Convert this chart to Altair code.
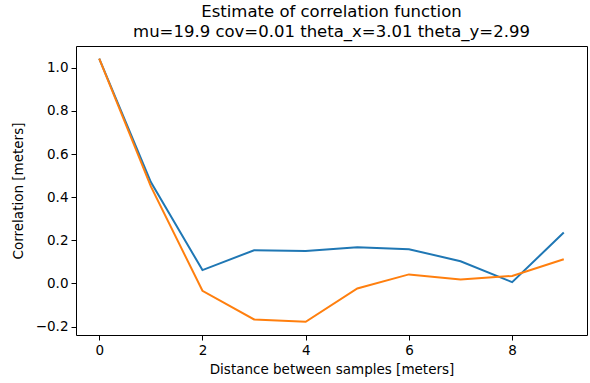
import altair as alt
import pandas as pd

distance = [0, 1, 2, 3, 4, 5, 6, 7, 8, 9]
blue_vals = [1.042, 0.47, 0.062, 0.154, 0.150, 0.168, 0.159, 0.103, 0.006, 0.236]
orange_vals = [1.042, 0.45, -0.034, -0.167, -0.178, -0.023, 0.042, 0.018, 0.035, 0.112]
series_names = ["estimate_1", "estimate_2"]
colors = ["#1f77b4", "#ff7f0e"]
y_ticks = [-0.2, 0.0, 0.2, 0.4, 0.6, 0.8, 1.0]
x_ticks = [0, 2, 4, 6, 8]

rows = []
for d, v in zip(distance, blue_vals):
    rows.append({"d": d, "v": v, "s": series_names[0]})
for d, v in zip(distance, orange_vals):
    rows.append({"d": d, "v": v, "s": series_names[1]})
df = pd.DataFrame(rows)

FONT = "DejaVu Sans"

chart = alt.Chart(df).mark_line(strokeWidth=2, clip=True).encode(
    x=alt.X("d:Q",
            scale=alt.Scale(domain=[-0.45, 9.45], nice=False, zero=False),
            axis=alt.Axis(values=x_ticks, title="Distance between samples [meters]",
                          format="d", grid=False, tickSize=5, labelPadding=3,
                          titlePadding=6)),
    y=alt.Y("v:Q",
            scale=alt.Scale(domain=[-0.239, 1.101], nice=False, zero=False),
            axis=alt.Axis(values=y_ticks, title="Correlation [meters]",
                          format=".1f", grid=False, tickSize=5, labelPadding=3,
                          titlePadding=10)),
    color=alt.Color("s:N", scale=alt.Scale(domain=series_names, range=colors), legend=None),
    detail="s:N",
).properties(
    width=511,
    height=289,
    title=alt.TitleParams(
        text=["Estimate of correlation function",
              "mu=19.9 cov=0.01 theta_x=3.01 theta_y=2.99"],
        anchor="middle", fontSize=16.5, font=FONT, fontWeight="normal",
        color="black", lineHeight=20, offset=6,
    ),
    autosize=alt.AutoSizeParams(type="none"),
    padding={"left": 76, "top": 46, "right": 3, "bottom": 48},
).configure_view(
    stroke="black", strokeWidth=1
).configure_axis(
    labelFont=FONT, titleFont=FONT, labelFontSize=13.5, titleFontSize=13.5,
    labelColor="black", titleColor="black", tickColor="black",
    domainColor="black", titleFontWeight="normal", domain=False,
)

chart.save("out.html", embed_options={"renderer": "svg", "actions": False})
